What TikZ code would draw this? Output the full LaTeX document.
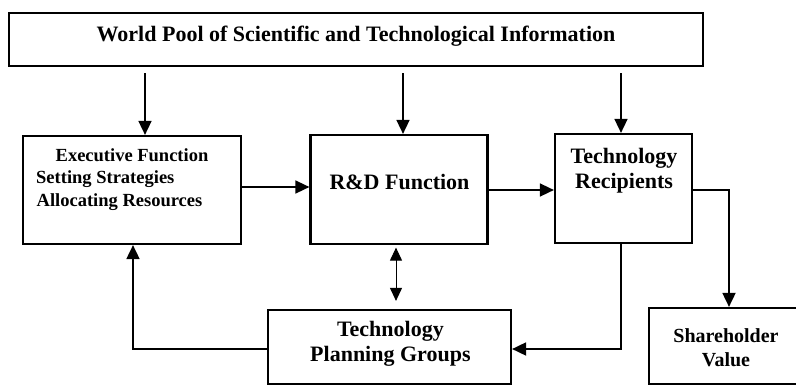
\documentclass[tikz,border=0pt]{standalone}
\usepackage{fontspec}
\setmainfont{Liberation Serif}
\usetikzlibrary{arrows.meta,calc}
\tikzset{
  box/.style={draw=black, line width=2.2pt, inner sep=0pt, fill=none},
  arr/.style={line width=1.6pt, -{Triangle[length=14pt,width=13pt]}},
  dbl/.style={line width=1pt, {Triangle[length=13pt,width=12pt]}-{Triangle[length=13pt,width=12pt]}},
  lbl/.style={anchor=base, inner sep=0pt, font=\bfseries\fontsize{22}{26}\selectfont},
  lbls/.style={anchor=base, inner sep=0pt, font=\bfseries\fontsize{18.5}{22}\selectfont},
  lblv/.style={anchor=base, inner sep=0pt, font=\bfseries\fontsize{20}{24}\selectfont}
}
\begin{document}
\begin{tikzpicture}[x=1pt,y=-1pt]
\clip (0,0) rectangle (796,386);
\fill[white] (0,0) rectangle (796,386);
% boxes
\node[box, minimum width=694pt, minimum height=53pt] (world) at (356,39.5) {};
\node[box, minimum width=218pt, minimum height=108pt] (exec) at (132,190) {};
\node[box, minimum width=177pt, minimum height=109pt] (rd) at (399,189.5) {};
\node[box, minimum width=137pt, minimum height=109pt] (tr) at (623.5,188.5) {};
\node[box, minimum width=243pt, minimum height=74pt] (tpg) at (389.5,347) {};
\node[box, minimum width=156pt, minimum height=76pt] (sh) at (727,346) {};
% texts
\node[lbl] (worldtxt) at (356,41.7) {World Pool of Scientific and Technological Information};
\node[lbls] (exectxta) at (132,161.7) {Executive Function};
\node[lbls, anchor=base west] (exectxtb) at (36,183.3) {Setting Strategies};
\node[lbls, anchor=base west] (exectxtc) at (36.5,206) {Allocating Resources};
\node[lbl] (rdtxt) at (399.5,189.3) {R\&D Function};
\node[lbl] (trtxta) at (624,163.3) {Technology};
\node[lbl] (trtxtb) at (624,188.3) {Recipients};
\node[lbl] (tpgtxta) at (390.4,336) {Technology};
\node[lbl] (tpgtxtb) at (390.4,361) {Planning Groups};
\node[lblv] (shtxta) at (726,342.7) {Shareholder};
\node[lblv] (shtxtb) at (726,366) {Value};
% connectors
\draw[arr] ($(145,0 |- world.south)+(0,6)$) -- (145,0 |- exec.north);
\draw[arr] ($(403,0 |- world.south)+(0,6)$) -- (403,0 |- rd.north);
\draw[arr] ($(621,0 |- world.south)+(0,6)$) -- (621,0 |- tr.north);
\draw[arr] (exec.east |- 0,187) -- (rd.west |- 0,187);
\draw[arr] (rd.east |- 0,190) -- (tr.west |- 0,190);
\draw[dbl] ($(396,0 |- rd.south)+(0,2.5)$) -- ($(396,0 |- tpg.north)+(0,-8)$);
\draw[arr, line width=1.8pt] (621,0 |- tr.south) -- (621,349) -- (tpg.east |- 0,349);
\draw[arr, line width=1.8pt] (tr.east |- 0,190) -- (729,190) -- (729,0 |- sh.north);
\draw[arr, line width=1.8pt] (tpg.west |- 0,349) -- (133,349) -- (133,0 |- exec.south);
\end{tikzpicture}
\end{document}
